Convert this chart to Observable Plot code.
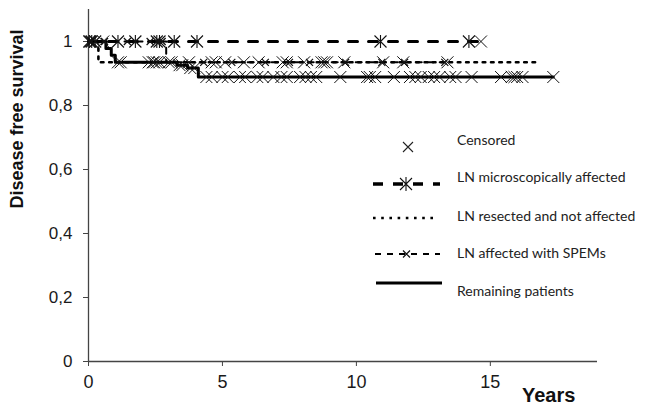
<!DOCTYPE html>
<html><head><meta charset="utf-8">
<script src="https://cdn.jsdelivr.net/npm/d3@7"></script>
<script src="https://cdn.jsdelivr.net/npm/@observablehq/plot@0.6"></script>
<style>
body{margin:0;background:#fff}
#wrap{position:relative;width:646px;height:406px;overflow:hidden}
#wrap svg{position:absolute;left:0;top:0}
</style></head><body><div id="wrap"></div>
<script>
// ---- data ----
const xTicks = [0, 5, 10, 15];
const yTicks = [0, 0.2, 0.4, 0.6, 0.8, 1];
const xTitle = "Years";
const yTitle = "Disease free survival";

// LN microscopically affected
const microT = [0, 14.65];
const microS = [1, 1];
const microCensor = [0.03, 0.12, 0.25, 1.1, 1.75, 2.55, 2.65, 3.2, 4.05, 10.9, 14.2];
const microCensorX = [0.08, 0.55, 14.65];

// LN resected and not affected
const dottedT = [0, 0.37, 16.7];
const dottedS = [1, 0.935, 0.935];
const dottedCensor = [2.25, 2.45, 3.0, 3.75, 4.6, 4.75, 5.1, 5.8, 6.35, 7.25, 7.4, 8.05, 8.7, 8.8, 8.9, 9.55, 11.0, 11.75, 13.4];

// LN affected with SPEMs
const spemT = [0, 2.9, 13.3];
const spemS = [1, 0.935, 0.935];
const spemCensor = [0.1, 0.6, 1.45, 2.3, 2.75, 4.3, 5.35, 6.6, 7.5, 8.25, 9.6, 10.95, 11.8, 13.3];

// Remaining patients
const solidT = [0, 0.65, 0.85, 1.0, 3.3, 3.7, 4.1, 17.35];
const solidS = [1, 0.978, 0.957, 0.935, 0.926, 0.917, 0.889, 0.889];
const solidCensor = [1.1, 1.2, 2.4, 2.55, 2.65, 3.1, 3.4, 3.5, 3.8, 3.95, 4.4, 4.6, 5.0, 5.2, 5.65, 5.85, 6.3, 6.5, 6.9, 7.2, 7.4, 7.9, 8.1, 8.3, 8.5, 9.4, 10.4, 10.5, 10.7, 11.4, 12.0, 12.2, 12.4, 12.7, 12.9, 13.1, 13.5, 13.7, 14.3, 15.4, 15.8, 15.9, 16.0, 16.2, 17.35];

const legendLabels = ["Censored", "LN microscopically affected", "LN resected and not affected", "LN affected with SPEMs", "Remaining patients"];

// ---- helpers ----
const toRows = (T, S) => T.map((t, i) => ({t, s: S[i]}));
const stepAt = (T, S, t) => { let v = S[0]; for (let i = 0; i < T.length; i++) if (T[i] <= t) v = S[i]; return v; };
const censorRows = (C, T, S) => C.map(t => ({t, s: stepAt(T, S, t)}));

const symX = {draw(ctx, size) { const r = Math.sqrt(size / Math.PI); ctx.moveTo(-r, -r); ctx.lineTo(r, r); ctx.moveTo(-r, r); ctx.lineTo(r, -r); }};
const symStar = {draw(ctx, size) { const r = Math.sqrt(size / Math.PI); ctx.moveTo(-r, -r); ctx.lineTo(r, r); ctx.moveTo(-r, r); ctx.lineTo(r, -r); ctx.moveTo(0, -r * 1.1); ctx.lineTo(0, r * 1.1); }};

const axisColor = "#444";
const font = "'Liberation Sans', Arial, sans-serif";

const styles = {
  micro: {stroke: "black", strokeWidth: 3, strokeDasharray: "9,11"},
  dotted: {stroke: "black", strokeWidth: 2.6, strokeDasharray: "2.6,5.7"},
  spem: {stroke: "black", strokeWidth: 2, strokeDasharray: "6,6"},
  solid: {stroke: "black", strokeWidth: 3}
};

const chart = Plot.plot({
  width: 646, height: 406,
  marginLeft: 88, marginRight: 49, marginTop: 9, marginBottom: 45,
  x: {domain: [0, 19]},
  y: {domain: [0, 1.1]},
  style: {fontFamily: font, fontSize: "18px", color: "#1a1a1a", background: "white"},
  marks: [
    Plot.axisX({ticks: xTicks, tickSize: 5, tickPadding: 9, label: null, fontSize: 18, stroke: axisColor}),
    Plot.axisY({ticks: yTicks, tickSize: 5, tickPadding: 11, label: null, fontSize: 17, stroke: axisColor,
      tickFormat: d => String(Math.round(d * 10) / 10).replace(".", ",")}),
    Plot.ruleX([0], {stroke: axisColor, strokeWidth: 1.3}),
    Plot.ruleY([0], {stroke: axisColor, strokeWidth: 1.3}),
    Plot.line(toRows(solidT, solidS), {x: "t", y: "s", curve: "step-after", ...styles.solid}),
    Plot.line(toRows(dottedT, dottedS), {x: "t", y: "s", curve: "step-after", ...styles.dotted}),
    Plot.line(toRows(spemT, spemS), {x: "t", y: "s", curve: "step-after", ...styles.spem}),
    Plot.line(toRows(microT, microS), {x: "t", y: "s", curve: "step-after", ...styles.micro}),
    Plot.dot(censorRows(solidCensor, solidT, solidS), {x: "t", y: "s", symbol: symX, r: 6, fill: "none", stroke: "#111", strokeWidth: 1}),
    Plot.dot(censorRows(dottedCensor, dottedT, dottedS), {x: "t", y: "s", symbol: symX, r: 6, fill: "none", stroke: "#111", strokeWidth: 1}),
    Plot.dot(censorRows(spemCensor, spemT, spemS), {x: "t", y: "s", symbol: symX, r: 3.5, fill: "none", stroke: "#111", strokeWidth: 1.2}),
    Plot.dot(censorRows(microCensor, microT, microS), {x: "t", y: "s", symbol: symStar, r: 6, fill: "none", stroke: "#111", strokeWidth: 1.1}),
    Plot.dot(censorRows(microCensorX, microT, microS), {x: "t", y: "s", symbol: symX, r: 6, fill: "none", stroke: "#111", strokeWidth: 1})
  ]
});
const wrap = document.getElementById("wrap");
wrap.appendChild(chart);

// ---- overlay: axis titles and legend ----
const ov = d3.select(wrap).append("svg").attr("width", 646).attr("height", 406).style("pointer-events", "none");
ov.append("text").text(yTitle)
  .attr("transform", "translate(23,119) rotate(-90)")
  .attr("text-anchor", "middle").attr("font-family", font).attr("font-weight", "bold").attr("font-size", 18).attr("fill", "#111");
ov.append("text").text(xTitle)
  .attr("x", 522).attr("y", 402)
  .attr("font-family", font).attr("font-weight", "bold").attr("font-size", 20).attr("fill", "#111");

const legFont = "Lato, 'Open Sans', sans-serif";
const textY = [140, 177, 216, 253, 291];
const lineY = [147, 184, 218, 254, 283];
const leg = ov.append("g");
legendLabels.forEach((lab, i) => {
  leg.append("text").text(lab).attr("x", 457).attr("y", textY[i]).attr("dy", "0.35em")
    .attr("font-family", legFont).attr("font-size", 14).attr("fill", "#222");
});
// censored marker
leg.append("path").attr("d", "M403,142L413,152M403,152L413,142").attr("stroke", "#222").attr("stroke-width", 1.1);
// micro
leg.append("line").attr("x1", 373).attr("x2", 440).attr("y1", lineY[1]).attr("y2", lineY[1])
  .attr("stroke", "black").attr("stroke-width", 3.5).attr("stroke-dasharray", "10,10");
leg.append("path").attr("d", `M400,${lineY[1]-6}L412,${lineY[1]+6}M400,${lineY[1]+6}L412,${lineY[1]-6}M406,${lineY[1]-7}L406,${lineY[1]+7}`)
  .attr("stroke", "#111").attr("stroke-width", 1.1).attr("fill", "none");
// dotted
leg.append("line").attr("x1", 373).attr("x2", 437).attr("y1", lineY[2]).attr("y2", lineY[2])
  .attr("stroke", "black").attr("stroke-width", 2.6).attr("stroke-dasharray", "2.6,5.6");
// spem
leg.append("line").attr("x1", 375).attr("x2", 440).attr("y1", lineY[3]).attr("y2", lineY[3])
  .attr("stroke", "black").attr("stroke-width", 2).attr("stroke-dasharray", "6,6");
leg.append("path").attr("d", `M403,${lineY[3]-3.5}L410,${lineY[3]+3.5}M403,${lineY[3]+3.5}L410,${lineY[3]-3.5}`)
  .attr("stroke", "#111").attr("stroke-width", 1.2);
// solid
leg.append("line").attr("x1", 376).attr("x2", 442).attr("y1", lineY[4]).attr("y2", lineY[4])
  .attr("stroke", "black").attr("stroke-width", 3.2);
</script></body></html>
